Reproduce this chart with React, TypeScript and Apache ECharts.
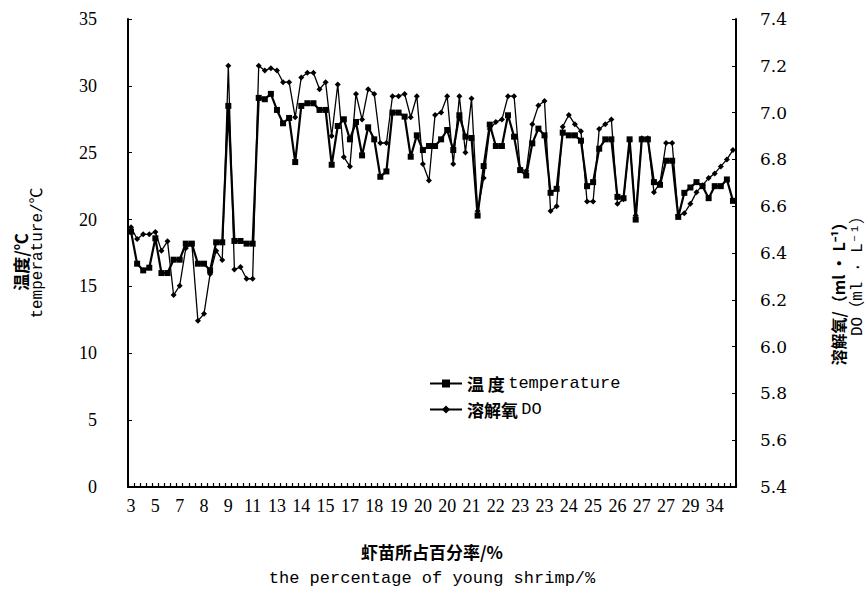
import React, { useEffect, useRef } from "react";
import * as echarts from "echarts";

const tickLabels = ["3", "5", "7", "8", "9", "11", "13", "14", "15", "17", "18", "19", "20", "20", "21", "22", "23", "23", "24", "25", "26", "27", "27", "29", "34"];

const temperature = [
  19.1, 16.7, 16.2, 16.4, 18.6, 16.0, 16.0, 17.0, 17.0, 18.2,
  18.2, 16.7, 16.7, 16.2, 18.3, 18.3, 28.5, 18.4, 18.4, 18.2,
  18.2, 29.1, 29.0, 29.4, 28.2, 27.2, 27.6, 24.3, 28.5, 28.7,
  28.7, 28.2, 28.2, 24.1, 27.0, 27.5, 26.0, 27.3, 24.8, 26.9,
  26.0, 23.2, 23.6, 28.0, 28.0, 27.7, 24.7, 26.3, 25.2, 25.5,
  25.5, 26.0, 26.7, 25.2, 27.8, 26.2, 26.1, 20.3, 24.0, 27.1,
  25.5, 25.5, 27.8, 26.2, 23.7, 23.3, 25.7, 26.8, 26.3, 22.0,
  22.3, 26.5, 26.3, 26.3, 25.9, 22.5, 22.8, 25.3, 26.0, 26.0,
  21.7, 21.6, 26.0, 20.0, 26.0, 26.0, 22.8, 22.6, 24.4, 24.4,
  20.2, 22.0, 22.4, 22.8, 22.5, 21.6, 22.5, 22.5, 23.0, 21.4,
];

const dissolvedOxygen = [
  6.51, 6.46, 6.48, 6.48, 6.49, 6.41, 6.45, 6.22, 6.26, 6.42,
  6.44, 6.11, 6.14, 6.31, 6.41, 6.37, 7.20, 6.33, 6.34, 6.29,
  6.29, 7.20, 7.18, 7.19, 7.18, 7.13, 7.13, 6.98, 7.15, 7.17,
  7.17, 7.10, 7.13, 6.90, 7.12, 6.81, 6.77, 7.08, 6.97, 7.10,
  7.08, 6.87, 6.87, 7.07, 7.07, 7.08, 6.98, 7.07, 6.78, 6.71,
  6.99, 7.00, 7.07, 6.78, 7.07, 6.83, 7.06, 6.58, 6.72, 6.93,
  6.96, 6.97, 7.07, 7.07, 6.76, 6.75, 6.95, 7.03, 7.05, 6.58,
  6.60, 6.94, 6.99, 6.95, 6.92, 6.62, 6.62, 6.93, 6.95, 6.97,
  6.61, 6.63, 6.88, 6.56, 6.89, 6.89, 6.66, 6.70, 6.87, 6.87,
  6.56, 6.57, 6.61, 6.66, 6.69, 6.72, 6.74, 6.77, 6.80, 6.84,
];

const legendCn = ["温 度", "溶解氧"];
const legendEn = ["temperature", "DO"];

const SERIF = "'Liberation Serif', 'Noto Sans CJK SC', serif";
const MONO = "'Liberation Mono', 'Noto Sans CJK SC', monospace";
const CJK = "'Noto Sans CJK SC', sans-serif";

export default function App() {
  const ref = useRef<HTMLDivElement>(null);

  useEffect(() => {
    if (!ref.current) return;
    const chart = echarts.init(ref.current, null, { renderer: "svg" });
    const categories = temperature.map((_, i) =>
      i % 4 === 0 && tickLabels[i / 4] !== undefined ? tickLabels[i / 4] : ""
    );
    const names = legendCn.map((c, i) => c + " " + legendEn[i]);

    chart.setOption({
      animation: false,
      backgroundColor: "#ffffff",
      grid: { left: 128, right: 131, top: 19, bottom: 103, containLabel: false },
      legend: {
        orient: "vertical",
        left: 424,
        top: 370,
        itemWidth: 32,
        itemHeight: 10,
        itemGap: 9,
        data: names,
        formatter: (name: string) => {
          const i = names.indexOf(name);
          return `{cn|${legendCn[i]}} {en|${legendEn[i]}}`;
        },
        textStyle: {
          color: "#000",
          rich: {
            cn: { fontFamily: CJK, fontWeight: "bold", fontSize: 17, color: "#000" },
            en: { fontFamily: MONO, fontSize: 17, color: "#000" },
          },
        },
      },
      xAxis: {
        type: "category",
        data: categories,
        boundaryGap: true,
        axisLine: { lineStyle: { color: "#000", width: 2 } },
        axisTick: { show: true, inside: true, length: 4, interval: 0, lineStyle: { color: "#000", width: 1.2 } },
        axisLabel: { interval: 0, margin: 10, color: "#000", fontFamily: SERIF, fontSize: 18 },
        splitLine: { show: false },
      },
      yAxis: [
        {
          type: "value",
          min: 0,
          max: 35,
          interval: 5,
          position: "left",
          axisLine: { show: true, lineStyle: { color: "#000", width: 2 } },
          axisTick: { show: true, inside: true, length: 4, lineStyle: { color: "#000" } },
          axisLabel: { margin: 31, color: "#000", fontFamily: SERIF, fontSize: 18 },
          splitLine: { show: false },
        },
        {
          type: "value",
          min: 5.4,
          max: 7.4,
          interval: 0.2,
          position: "right",
          axisLine: { show: true, lineStyle: { color: "#000", width: 2 } },
          axisTick: { show: true, inside: true, length: 4, lineStyle: { color: "#000" } },
          axisLabel: {
            margin: 24,
            color: "#000",
            fontFamily: "'DejaVu Serif', serif",
            fontSize: 17,
            formatter: (v: number) => v.toFixed(1),
          },
          splitLine: { show: false },
        },
      ],
      series: [
        {
          name: names[0],
          type: "line",
          yAxisIndex: 0,
          data: temperature,
          symbol: "rect",
          symbolSize: 6,
          showSymbol: true,
          lineStyle: { color: "#000", width: 2.2 },
          itemStyle: { color: "#000" },
        },
        {
          name: names[1],
          type: "line",
          yAxisIndex: 1,
          data: dissolvedOxygen,
          symbol: "diamond",
          symbolSize: 6,
          showSymbol: true,
          lineStyle: { color: "#000", width: 1.3 },
          itemStyle: { color: "#000" },
        },
      ],
      graphic: [
        {
          type: "text",
          x: 20,
          y: 262,
          rotation: Math.PI / 2,
          style: { text: "温度/℃", font: `bold 17px ${CJK}`, fill: "#000", textAlign: "center", textVerticalAlign: "middle" },
        },
        {
          type: "text",
          x: 38,
          y: 253,
          rotation: Math.PI / 2,
          style: { text: "temperature/℃", font: `16px ${MONO}`, fill: "#000", textAlign: "center", textVerticalAlign: "middle" },
        },
        {
          type: "text",
          x: 838,
          y: 290,
          rotation: Math.PI / 2,
          style: { text: "溶解氧/（ml · L⁻¹）", font: `bold 16px ${CJK}`, fill: "#000", textAlign: "center", textVerticalAlign: "middle" },
        },
        {
          type: "text",
          x: 858,
          y: 272,
          rotation: Math.PI / 2,
          style: { text: "DO（ml · L⁻¹）", font: `16px ${MONO}`, fill: "#000", textAlign: "center", textVerticalAlign: "middle" },
        },
        {
          type: "text",
          x: 432,
          y: 551,
          style: { text: "虾苗所占百分率/%", font: `bold 17px ${CJK}`, fill: "#000", textAlign: "center", textVerticalAlign: "middle" },
        },
        {
          type: "text",
          x: 432,
          y: 578,
          style: { text: "the percentage of young shrimp/%", font: `17px ${MONO}`, fill: "#000", textAlign: "center", textVerticalAlign: "middle" },
        },
      ],
    });
    return () => chart.dispose();
  }, []);

  return <div ref={ref} style={{ width: 867, height: 590, position: "absolute", left: 0, top: 0 }} />;
}
